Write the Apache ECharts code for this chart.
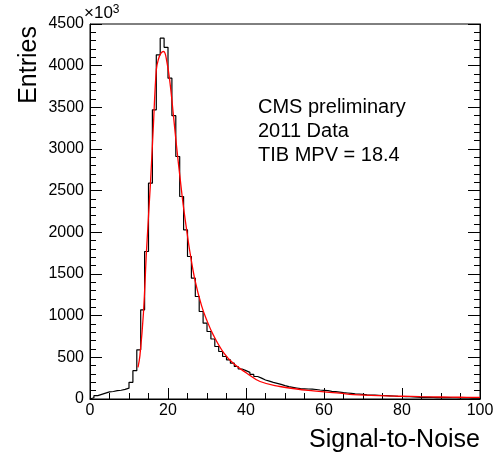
<!DOCTYPE html>
<html>
<head>
<meta charset="utf-8">
<script src="https://cdn.jsdelivr.net/npm/echarts@6/dist/echarts.min.js"></script>
<style>
  html, body { margin: 0; padding: 0; background: #fff; }
  #chart { width: 497px; height: 455px; }
</style>
</head>
<body>
<div id="chart"></div>
<script>
// histogram: 100 bins of width 1 from 0 to 100 (values as drawn on the x10^3 axis)
const binLow   = 0
const binWidth = 1
const entries = [
  15, 40, 55, 70, 85, 90, 100, 105, 115, 130,
  200, 340, 590, 1070, 1770, 2590, 3470, 4130, 4330, 4220,
  3850, 3400, 2910, 2430, 2030, 1710, 1450, 1230, 1050, 910,
  810, 720, 630, 570, 510, 470, 430, 390, 360, 340,
  320, 295, 270, 250, 228, 215, 200, 188, 175, 160,
  148, 140, 132, 124, 122, 120, 118, 114, 108, 104,
  100, 92, 88, 82, 76, 72, 68, 62, 60, 56,
  50, 48, 46, 44, 42, 40, 38, 36, 32, 30,
  28, 27, 24, 22, 20, 20, 19, 18, 17, 17,
  16, 16, 15, 15, 14, 13, 12, 11, 10, 10,
]

// fitted curve
const fitX = [12.3, 12.8, 13.7, 14.5, 15.5, 16.2, 17, 17.5, 18.2, 18.9, 19.7, 20.5, 21.4, 22.2,
              23.1, 23.9, 24.9, 25.6, 26.9, 28.6, 29.9, 31.6, 34.2, 36.8, 40.2, 43.6, 48.7,
              53, 57.3, 60.7, 64, 67.5, 72, 76, 80, 84.6, 90, 95, 100]
const fitY = [380, 520, 1030, 1790, 2590, 3230, 3950, 4070, 4150, 4170, 4050, 3800, 3400, 3030,
              2650, 2330, 1990, 1770, 1430, 1120, 950, 770, 560, 425, 310, 210, 150,
              120, 98, 82, 70, 52, 44, 38, 33, 28, 24, 21, 19]

const xTicks = { min: 0, max: 100, interval: 20 }
const yTicks = { min: 0, max: 4500, interval: 500 }

const labels = ['CMS preliminary', '2011 Data', 'TIB MPV = 18.4']

const font = 'Liberation Sans, Arial, Helvetica, sans-serif'

// step outline of the histogram
const histPts = [[binLow, 0]]
entries.forEach((v, i) => histPts.push([binLow + i * binWidth, v]))
histPts.push([binLow + entries.length * binWidth, entries[entries.length - 1]])

const chart = echarts.init(document.getElementById('chart'), null, { renderer: 'canvas' })

const yAxisCommon = {
  type: 'value',
  min: yTicks.min, max: yTicks.max, interval: yTicks.interval,
  axisLine: { show: true, lineStyle: { color: '#000', width: 1 } },
  axisTick: { show: true, inside: true, length: 12, lineStyle: { color: '#000' } },
  minorTick: { show: true, splitNumber: 5, length: 6, lineStyle: { color: '#000' } },
  splitLine: { show: false },
}

chart.setOption({
  animation: false,
  backgroundColor: '#fff',
  textStyle: { fontFamily: font },
  grid: { left: 90, right: 17, top: 24, bottom: 56, show: true, borderColor: '#000', borderWidth: 1 },
  xAxis: {
    type: 'value',
    min: xTicks.min, max: xTicks.max, interval: xTicks.interval,
    axisLine: { show: true, lineStyle: { color: '#000', width: 1 } },
    axisTick: { show: true, inside: true, length: 11, lineStyle: { color: '#000' } },
    minorTick: { show: true, splitNumber: 4, length: 6, lineStyle: { color: '#000' } },
    splitLine: { show: false },
    axisLabel: { color: '#000', fontSize: 16, fontFamily: font, margin: 4 },
  },
  yAxis: [
    { ...yAxisCommon, position: 'left',
      axisLabel: { color: '#000', fontSize: 16, fontFamily: font, margin: 6, formatter: v => String(v) } },
    { ...yAxisCommon, position: 'right', axisLabel: { show: false } },
  ],
  series: [
    {
      name: 'data', type: 'line', step: 'end',
      data: histPts, showSymbol: false,
      lineStyle: { color: '#000', width: 1.2 }, z: 2,
    },
    {
      name: 'fit', type: 'line', smooth: 0.4,
      data: fitX.map((x, i) => [x, fitY[i]]), showSymbol: false,
      lineStyle: { color: '#ff0000', width: 1.3 }, z: 3,
    },
  ],
  graphic: [
    { type: 'text', left: 84, top: 4,
      style: { text: '×10{s|3}', fontSize: 17, fontFamily: font, fill: '#000',
        rich: { s: { fontSize: 12, fontFamily: font, verticalAlign: 'top', padding: [0, 0, 7, 0] } } } },
    { type: 'text', x: 29, y: 26, rotation: Math.PI / 2,
      style: { text: 'Entries', fontSize: 25, fontFamily: font, fill: '#000',
        align: 'right', verticalAlign: 'middle' } },
    { type: 'text', x: 480, y: 440,
      style: { text: 'Signal-to-Noise', fontSize: 25, fontFamily: font, fill: '#000',
        align: 'right', verticalAlign: 'middle' } },
    ...labels.map((t, i) => ({
      type: 'text', x: 258, y: 107 + i * 24,
      style: { text: t, fontSize: 20, fontFamily: font, fill: '#000', align: 'left', verticalAlign: 'middle' },
    })),
  ],
})
</script>
</body>
</html>
